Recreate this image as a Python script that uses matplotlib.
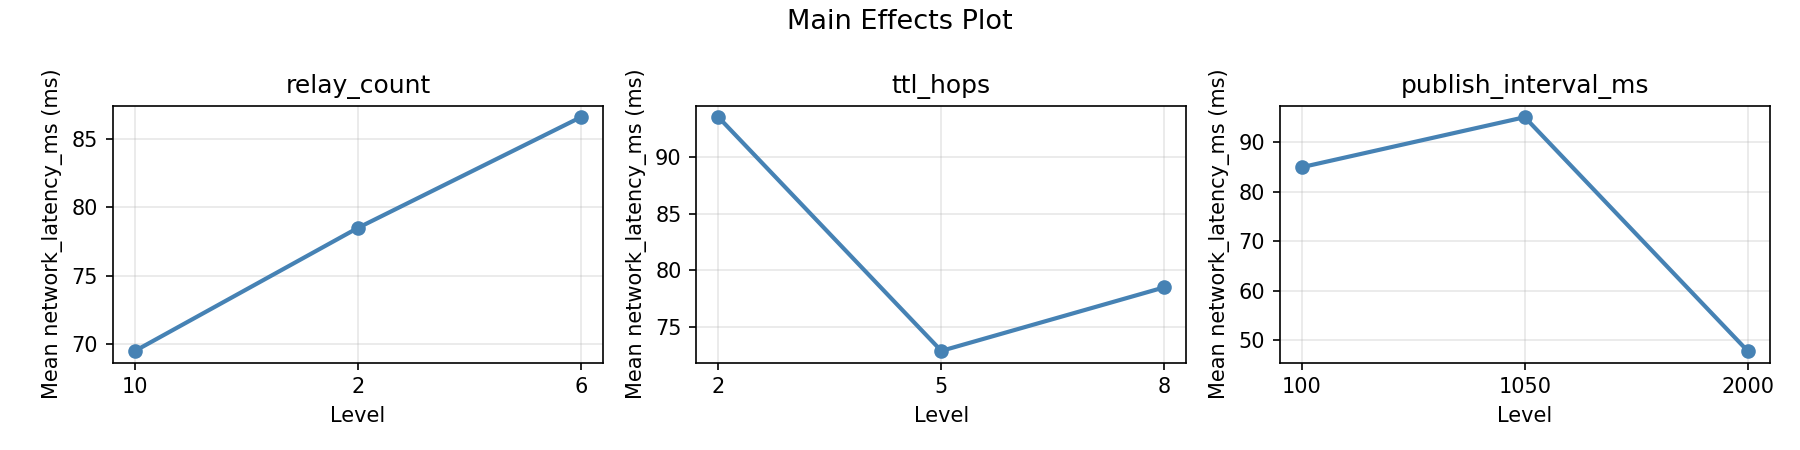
import matplotlib

matplotlib.use("Agg")
import matplotlib.pyplot as plt  # noqa: E402

# niveaux (triés comme des chaînes) et moyennes de latence par facteur
relay_levels = ["10", "2", "6"]
relay_means = [69.5, 78.5, 86.6]

ttl_levels = ["2", "5", "8"]
ttl_means = [93.5, 72.9, 78.5]

publish_levels = ["100", "1050", "2000"]
publish_means = [85.0, 95.1, 47.9]

factors = [
    ("relay_count", relay_levels, relay_means),
    ("ttl_hops", ttl_levels, ttl_means),
    ("publish_interval_ms", publish_levels, publish_means),
]

fig, axes = plt.subplots(1, 3, figsize=(12, 3))
for ax, (name, levels, means) in zip(axes, factors):
    ax.plot(levels, means, marker="o", color="steelblue", lw=2, markersize=6)
    ax.set_title(name)
    ax.set_xlabel("Level")
    ax.set_ylabel("Mean network_latency_ms (ms)")
    ax.grid(True, alpha=0.3)

fig.suptitle("Main Effects Plot", fontsize=13)
fig.tight_layout()
fig.savefig("out.png", dpi=150)
plt.close(fig)
